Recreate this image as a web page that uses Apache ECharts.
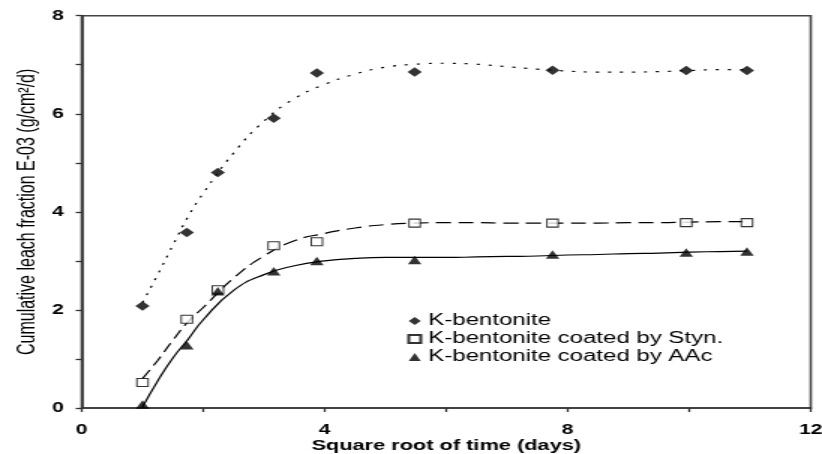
<!DOCTYPE html>
<html>
<head>
<meta charset="utf-8">
<script src="https://cdn.jsdelivr.net/npm/echarts@6/dist/echarts.min.js"></script>
<style>
  html, body { margin: 0; padding: 0; background: #fff; overflow: hidden; }
  /* the source picture is an Excel chart stretched 1.5x sideways, so draw narrow and stretch */
  #chart { width: 548px; height: 454px; transform: scaleX(1.5); transform-origin: 0 0; }
</style>
</head>
<body>
<div id="chart"></div>
<script>
// square root of time (days) at each measurement
const timePoints = [1.0, 1.73, 2.24, 3.16, 3.87, 5.48, 7.75, 9.95, 10.95]

// cumulative leach fraction E-03, one list per material
const kBentonite = [2.08, 3.58, 4.80, 5.91, 6.83, 6.85, 6.89, 6.88, 6.88]
const kStyn = [0.52, 1.81, 2.41, 3.31, 3.39, 3.77, 3.77, 3.78, 3.78]
const kAAc = [0.07, 1.28, 2.38, 2.79, 3.00, 3.02, 3.13, 3.17, 3.19]

// trend curves
const trendX = [1.0, 1.25, 1.5, 1.75, 2.0, 2.5, 3.0, 3.5, 4.0, 4.5, 5.0, 5.5, 6.0, 6.5, 7.0, 7.5, 8.0, 8.5, 9.0, 9.5, 10.0, 10.5, 10.95]
const kBentoniteTrend = [2.15, 2.72, 3.32, 3.9, 4.38, 5.2, 5.85, 6.31, 6.6, 6.81, 6.95, 7.01, 7.03, 7.01, 6.96, 6.91, 6.87, 6.85, 6.85, 6.86, 6.88, 6.9, 6.9]
const kStynTrend = [0.6, 0.97, 1.38, 1.76, 2.05, 2.65, 3.1, 3.41, 3.56, 3.67, 3.74, 3.77, 3.78, 3.78, 3.77, 3.77, 3.77, 3.77, 3.78, 3.78, 3.79, 3.8, 3.8]
const kAAcTrend = [0.02, 0.55, 1.02, 1.4, 1.8, 2.4, 2.72, 2.9, 3.0, 3.05, 3.07, 3.07, 3.07, 3.08, 3.09, 3.1, 3.12, 3.13, 3.15, 3.16, 3.18, 3.19, 3.2]

const xTicks = { min: 0, max: 12, step: 4 }
const yTicks = { min: 0, max: 8, step: 2 }

const seriesNames = [
  'K-bentonite',
  'K-bentonite coated by Styn.',
  'K-bentonite coated by AAc'
]

const font = '"Liberation Sans", Arial, sans-serif'

function pairs(xs, ys) {
  return xs.map((x, i) => [x, ys[i]])
}

function trendLine(name, ys, dash) {
  return {
    name,
    type: 'line',
    data: pairs(trendX, ys),
    smooth: true,
    showSymbol: false,
    silent: true,
    z: 2,
    lineStyle: { color: '#000', width: 1.2, type: dash }
  }
}

function buildOption() {
  const axisLine = { lineStyle: { color: '#333', width: 1.6 } }
  const tickStyle = { color: '#333', width: 1.3 }
  const tickLabel = { color: '#000', fontSize: 14, fontWeight: 'bold', fontFamily: font }
  return {
    animation: false,
    backgroundColor: '#fff',
    grid: {
      left: 54.5,
      right: 7.5,
      top: 15.7,
      bottom: 46,
      outerBoundsMode: 'none',
      show: true,
      borderColor: '#444',
      borderWidth: 1.6
    },
    legend: {
      orient: 'vertical',
      left: 266.5,
      top: 308,
      itemWidth: 8,
      itemHeight: 8,
      itemGap: 2,
      textStyle: { color: '#000', fontSize: 16, fontFamily: font },
      data: [
        { name: seriesNames[0], icon: 'diamond' },
        { name: seriesNames[1], icon: 'rect' },
        { name: seriesNames[2], icon: 'triangle' }
      ]
    },
    xAxis: {
      type: 'value',
      min: xTicks.min,
      max: xTicks.max,
      interval: xTicks.step,
      name: 'Square root of time (days)',
      nameLocation: 'middle',
      nameGap: 30,
      nameMoveOverlap: false,
      nameTextStyle: { color: '#000', fontSize: 14.5, fontWeight: 'bold', fontFamily: font },
      axisLine,
      axisTick: { length: 4, lineStyle: tickStyle },
      minorTick: { show: true, splitNumber: 2, length: 4, lineStyle: tickStyle },
      axisLabel: { ...tickLabel, margin: 15 },
      splitLine: { show: false }
    },
    yAxis: {
      type: 'value',
      min: yTicks.min,
      max: yTicks.max,
      interval: yTicks.step,
      name: 'Cumulative leach fraction E-03 (g/cm²/d)',
      nameLocation: 'middle',
      nameGap: 28,
      nameMoveOverlap: false,
      nameTextStyle: { color: '#000', fontSize: 16, fontFamily: font },
      axisLine,
      axisTick: { length: 4, lineStyle: tickStyle },
      minorTick: { show: true, splitNumber: 2, length: 4, lineStyle: tickStyle },
      axisLabel: { ...tickLabel, margin: 12 },
      splitLine: { show: false }
    },
    series: [
      trendLine('K-bentonite trend', kBentoniteTrend, [2, 6]),
      trendLine('Styn. trend', kStynTrend, [10, 5]),
      trendLine('AAc trend', kAAcTrend, 'solid'),
      {
        name: seriesNames[0],
        type: 'scatter',
        symbol: 'diamond',
        symbolSize: [9.5, 9.5],
        z: 3,
        itemStyle: { color: '#000' },
        data: pairs(timePoints, kBentonite)
      },
      {
        name: seriesNames[1],
        type: 'scatter',
        symbol: 'rect',
        symbolSize: [7.5, 8],
        z: 3,
        itemStyle: { color: '#fff', borderColor: '#000', borderWidth: 1 },
        data: pairs(timePoints, kStyn)
      },
      {
        name: seriesNames[2],
        type: 'scatter',
        symbol: 'triangle',
        symbolSize: [9, 8.5],
        z: 3,
        itemStyle: { color: '#000' },
        data: pairs(timePoints, kAAc)
      }
    ]
  }
}

const chart = echarts.init(document.getElementById('chart'))
chart.setOption(buildOption())
</script>
</body>
</html>
